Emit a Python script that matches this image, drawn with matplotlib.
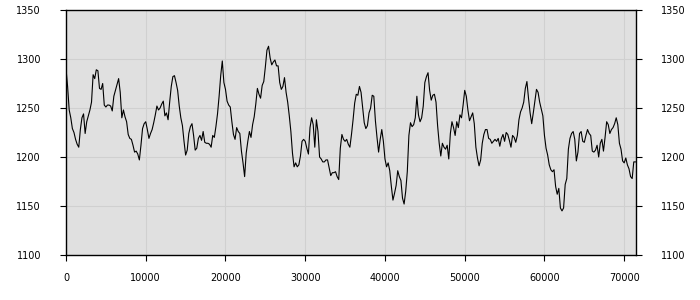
import numpy as np
import matplotlib
matplotlib.use("Agg")
import matplotlib.pyplot as plt

# one sample every 200 along x
x = np.arange(0, 71401, 200)
y = [
    1290, 1272, 1248, 1240, 1229, 1225, 1218, 1213, 1210, 1228,
    1240, 1244, 1224, 1236, 1242, 1248, 1256, 1284, 1280, 1289,
    1288, 1270, 1269, 1275, 1253, 1251, 1253, 1253, 1252, 1247,
    1262, 1268, 1274, 1280, 1266, 1240, 1248, 1241, 1236, 1223,
    1219, 1218, 1212, 1205, 1206,
    1203, 1197, 1212, 1229, 1234, 1236, 1228, 1219, 1224, 1228,
    1235, 1243, 1252, 1248, 1250, 1254, 1257, 1242, 1245, 1238,
    1256, 1272, 1282, 1283, 1276, 1268, 1252, 1240, 1232, 1216,
    1202, 1207, 1224, 1231, 1234, 1222, 1207, 1209, 1219, 1222,
    1217, 1226, 1215, 1214, 1214, 1213,
    1210, 1222, 1220, 1231, 1244, 1262, 1283, 1298, 1276, 1269,
    1257, 1253, 1251, 1236, 1223, 1218, 1230, 1226, 1224, 1206,
    1194, 1180, 1204, 1216, 1226, 1220, 1233, 1241, 1254, 1270,
    1264, 1260, 1273, 1277, 1292, 1309, 1313, 1301, 1294, 1297,
    1299, 1293, 1293, 1276, 1269, 1272,
    1281, 1266, 1256, 1242, 1226, 1204, 1190, 1194, 1190, 1192,
    1201, 1216, 1218, 1216, 1209, 1203, 1230, 1240, 1233, 1210,
    1238, 1226, 1200, 1198, 1195, 1195, 1197, 1197, 1189, 1181,
    1184, 1184, 1185, 1180, 1177, 1209, 1223, 1218, 1216, 1218,
    1213, 1210, 1223, 1238, 1255, 1264,
    1263, 1272, 1266, 1250, 1235, 1229, 1232, 1245, 1250, 1263,
    1262, 1237, 1220, 1205, 1218, 1228, 1216, 1198, 1190, 1194,
    1186, 1170, 1156, 1163, 1171, 1186, 1180, 1176, 1158, 1152,
    1165, 1185, 1222, 1235, 1231, 1233, 1240, 1262, 1243, 1236,
    1240, 1252, 1276, 1282, 1286, 1268,
    1258, 1263, 1264, 1256, 1232, 1214, 1201, 1214, 1210, 1208,
    1212, 1198, 1224, 1236, 1230, 1222, 1236, 1230, 1243, 1240,
    1253, 1268, 1262, 1248, 1237, 1241, 1245, 1234, 1210, 1199,
    1191, 1197, 1214, 1223, 1228, 1228, 1219, 1218, 1214, 1216,
    1218, 1216, 1219, 1211, 1219, 1223,
    1216, 1225, 1223, 1217, 1210, 1222, 1220, 1215, 1222, 1238,
    1246, 1250, 1256, 1270, 1277, 1260, 1245, 1234, 1245, 1257,
    1269, 1266, 1256, 1249, 1242, 1222, 1209, 1202, 1192, 1187,
    1185, 1187, 1170, 1162, 1168, 1148, 1145, 1148, 1172, 1178,
    1208, 1219, 1224, 1226, 1218, 1196,
    1205, 1224, 1226, 1216, 1215, 1222, 1228, 1224, 1222, 1206,
    1205, 1207, 1212, 1200, 1214, 1218, 1206, 1220, 1236, 1233,
    1224, 1228, 1230, 1234, 1240, 1233, 1214, 1208, 1196, 1194,
    1199, 1192, 1188, 1180, 1178, 1195, 1195,
]
xticks = [0, 10000, 20000, 30000, 40000, 50000, 60000, 70000]
yticks = [1100, 1150, 1200, 1250, 1300, 1350]

fig = plt.figure(figsize=(7, 3), dpi=100)
ax = fig.add_axes([66 / 700, 45 / 300, 570 / 700, 245 / 300])
ax.set_facecolor("#e0e0e0")
ax.plot(x, y, color="black", lw=0.8)

ax.set_xlim(0, 71480)
ax.set_ylim(1100, 1350)
ax.set_xticks(xticks)
ax.set_yticks(yticks)
ax.grid(True, color="#d0d0d0", lw=0.8)
ax.set_axisbelow(True)

for s in ax.spines.values():
    s.set_color("black")
    s.set_linewidth(1)

ax.tick_params(axis="y", which="both", left=True, right=True,
               labelleft=True, labelright=True, length=4, pad=14,
               labelsize=7)
ax.tick_params(axis="x", length=4, pad=9, labelsize=7)

fig.savefig("out.png", dpi=100)
